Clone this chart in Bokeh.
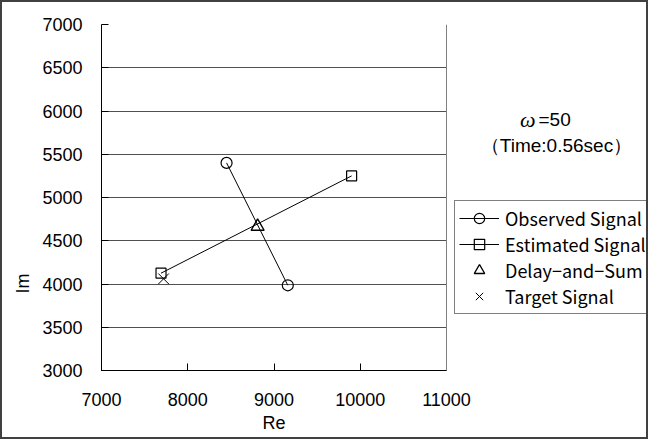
from bokeh.plotting import figure
from bokeh.models import Legend, LegendItem, Label, FixedTicker, Range1d, Span, Title
from bokeh.embed import file_html
from bokeh.resources import INLINE

# ---- data ----
obs_re = [8450, 9160]
obs_im = [5400, 3985]
est_re = [7690, 9900]
est_im = [4125, 5250]
das_re = [8810]
das_im = [4665]
tgt_re = [7720]
tgt_im = [4060]

x_ticks = [7000, 8000, 9000, 10000, 11000]
y_ticks = [3000, 3500, 4000, 4500, 5000, 5500, 6000, 6500, 7000]

series_names = ["Observed Signal", "Estimated Signal", "Delay\u2212and\u2212Sum", "Target Signal"]
x_title = "Re"
y_title = "Im"
omega_text = "\u03c9"
omega_value = "=50"
time_text = "\uff08Time:0.56sec\uff09"

TICK_FONT = "Liberation Sans"
LEG_FONT = "Noto Sans CJK JP"

# layout (pixels)
W, H = 648, 439
LEFT, TOP, RIGHT = 99, 22, 4
PLOT_W, PLOT_H = 345, 346          # pixel size of the 7000..11000 x 3000..7000 area
frame_w = W - LEFT - RIGHT
x_lo, x_hi = x_ticks[0], x_ticks[-1]
x_end = x_lo + (x_hi - x_lo) * frame_w / PLOT_W   # frame is widened to host legend/notes

p = figure(width=W, height=H, output_backend="svg", toolbar_location=None,
           x_range=Range1d(x_lo, x_end), y_range=Range1d(y_ticks[0], y_ticks[-1]),
           min_border_left=LEFT, min_border_top=TOP, min_border_right=RIGHT,
           min_border_bottom=H - TOP - PLOT_H)
p.styles = {"border": "2px solid #404040"}
p.background_fill_color = "white"
p.border_fill_color = "white"
p.outline_line_color = None

# axes
for ax, ticks in ((p.xaxis[0], x_ticks), (p.yaxis[0], y_ticks)):
    ax.ticker = FixedTicker(ticks=ticks)
    ax.minor_tick_line_color = None
    ax.major_tick_in = 7
    ax.major_tick_out = 0
    ax.axis_line_color = "black"
    ax.major_tick_line_color = "black"
    ax.major_label_text_font = TICK_FONT
    ax.major_label_text_font_size = "18px"
    ax.major_label_text_color = "black"

p.xaxis.bounds = (x_lo, x_hi)
p.xaxis.major_label_standoff = 22
p.yaxis.major_label_standoff = 19

# axis titles placed like the reference (Re under the plot area, Im low on the left)
p.add_layout(Title(text=x_title, align="left", offset=161,
                   text_font=TICK_FONT, text_font_size="18px", text_font_style="normal",
                   text_color="black", standoff=4), "below")
p.add_layout(Title(text=y_title, align="left", offset=77,
                   text_font=TICK_FONT, text_font_size="18px", text_font_style="normal",
                   text_color="black", standoff=14), "left")

p.xgrid.grid_line_color = None
try:
    p.ygrid.ticker = FixedTicker(ticks=y_ticks)
    p.ygrid.cross_bounds = (x_lo, x_hi)
    p.ygrid.grid_line_color = "#505050"
    p.ygrid.grid_line_width = 1
except AttributeError:
    p.ygrid.grid_line_color = None
    p.segment(x0=[x_lo] * len(y_ticks), x1=[x_hi] * len(y_ticks), y0=y_ticks, y1=y_ticks,
              line_color="#505050", line_width=1)

# right border of the plot area
p.add_layout(Span(location=x_hi, dimension="height", line_color="#808080", line_width=1))

# series
r_obs_line = p.line(obs_re, obs_im, line_color="black", line_width=1)
r_obs_mark = p.scatter(obs_re, obs_im, marker="circle", size=11, fill_color=None,
                       line_color="black", line_width=1.2)
r_est_line = p.line(est_re, est_im, line_color="black", line_width=1)
r_est_mark = p.scatter(est_re, est_im, marker="square", size=10, fill_color=None,
                       line_color="black", line_width=1.2)
r_das = p.scatter(das_re, das_im, marker="triangle", size=13, fill_color=None,
                  line_color="black", line_width=1.4)
r_tgt = p.scatter(tgt_re, tgt_im, marker="x", size=15, line_color="black", line_width=1)

legend = Legend(items=[
    LegendItem(label=series_names[0], renderers=[r_obs_line, r_obs_mark]),
    LegendItem(label=series_names[1], renderers=[r_est_line, r_est_mark]),
    LegendItem(label=series_names[2], renderers=[r_das]),
    LegendItem(label=series_names[3], renderers=[r_tgt]),
], location=(353, 56))
legend.margin = 0
legend.padding = 4
legend.spacing = 0
legend.glyph_width = 40
legend.glyph_height = 26
legend.label_standoff = 6
legend.label_height = 26
legend.label_text_font = LEG_FONT
legend.label_text_font_size = "18px"
legend.label_text_color = "black"
legend.border_line_color = "black"
legend.border_line_width = 1
legend.background_fill_color = "white"
legend.background_fill_alpha = 1
p.add_layout(legend, "center")

# annotation text (screen units relative to the plot frame)
p.add_layout(Label(x=434, y=251, x_units="screen", y_units="screen", text=omega_text,
                   text_font="Liberation Serif", text_font_style="italic",
                   text_font_size="22px", text_align="right", text_baseline="middle",
                   text_color="black"))
p.add_layout(Label(x=437, y=251, x_units="screen", y_units="screen", text=omega_value,
                   text_font=TICK_FONT, text_font_size="19px", text_align="left",
                   text_baseline="middle", text_color="black"))
p.add_layout(Label(x=455, y=225, x_units="screen", y_units="screen", text=time_text,
                   text_font=TICK_FONT, text_font_size="19px", text_align="center",
                   text_baseline="middle", text_color="black"))

open("out.html", "w").write(file_html(p, INLINE))
